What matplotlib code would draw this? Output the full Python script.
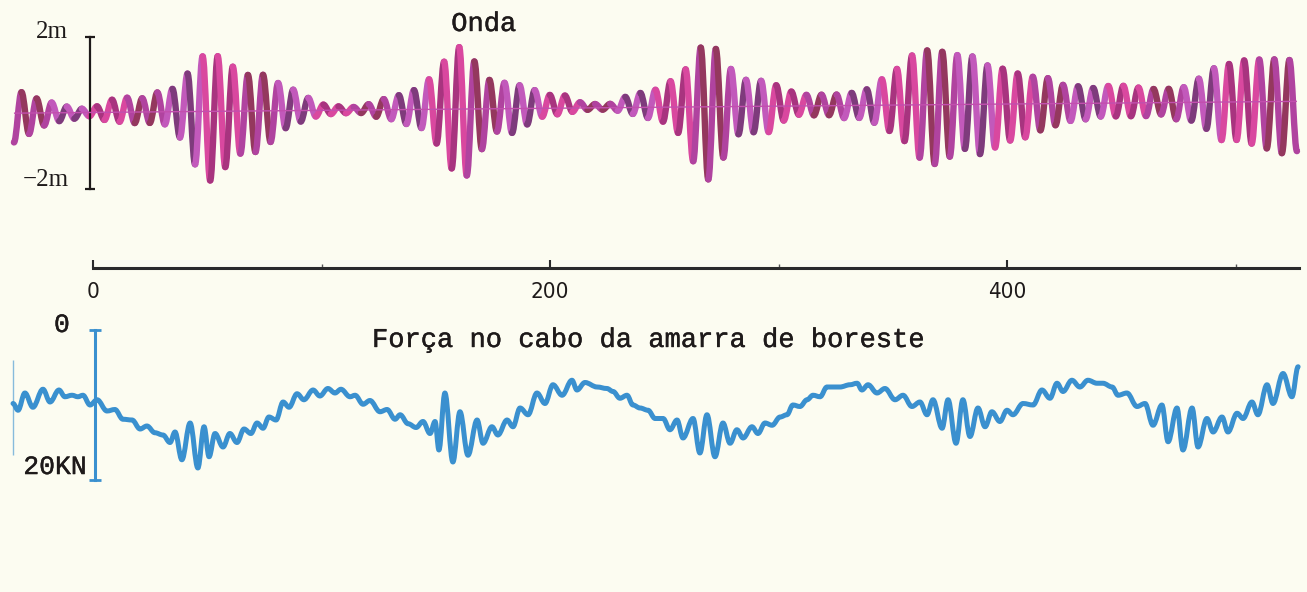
import numpy as np
import matplotlib.pyplot as plt
import matplotlib.patheffects as pe
from matplotlib.path import Path
from matplotlib.patches import PathPatch
from matplotlib.collections import PatchCollection
from matplotlib.transforms import Affine2D

# wave elevation, read cycle by cycle: crest height and trough depth (m)
wave_crests = [0.55, 0.38, 0.27, 0.16, 0.10, 0.16, 0.33, 0.38, 0.36, 0.51, 0.60,
               1.00, 1.45, 1.45, 1.17, 0.95, 0.95, 0.73, 0.55, 0.33, 0.15,
               0.10, 0.08, 0.15, 0.28, 0.38, 0.51, 0.79, 1.25, 1.63, 1.25, 0.76,
               0.68, 0.61, 0.48, 0.35, 0.33, 0.15, 0.10, 0.10, 0.28, 0.38,
               0.46, 0.68, 0.99, 1.56, 1.52, 0.99, 0.70, 0.67, 0.55, 0.38, 0.29,
               0.29, 0.29, 0.33, 0.42, 0.68, 0.95, 1.30, 1.43, 1.39, 1.30, 1.26,
               1.02, 0.93, 0.80, 0.71, 0.67, 0.49, 0.45, 0.40, 0.45, 0.45, 0.40,
               0.36, 0.36, 0.40, 0.62, 0.89, 1.00, 1.09, 1.11, 1.11, 1.09]
wave_troughs = [0.77,
                0.55, 0.33, 0.22, 0.16, 0.10, 0.20, 0.25, 0.29, 0.29, 0.33, 0.68,
                1.39, 1.82, 1.47, 1.12, 1.08, 0.82, 0.46, 0.29, 0.16, 0.10,
                0.08, 0.08, 0.18, 0.25, 0.38, 0.49, 0.90, 1.56, 1.75, 1.06, 0.60,
                0.64, 0.42, 0.22, 0.16, 0.10, 0.05, 0.05, 0.08, 0.17, 0.28,
                0.38, 0.68, 1.43, 1.91, 1.34, 0.73, 0.68, 0.68, 0.38, 0.23, 0.25,
                0.25, 0.33, 0.33, 0.46, 0.68, 0.95, 1.39, 1.56, 1.37, 1.17, 1.31,
                1.14, 0.96, 0.88, 0.70, 0.57, 0.46, 0.42, 0.35, 0.35, 0.35, 0.35,
                0.31, 0.44, 0.48, 0.70, 1.00, 1.00, 1.10, 1.23, 1.36, 1.31]
wave_start, wave_end = -34.6, 526.9  # first and last trough (s)

# starboard mooring line force: times (s) of its peaks/dips and values (kN)
force_t = [-35.0, -32.8, -29.8, -26.3, -21.9, -18.8, -14.9, -12.3, -9.2, -6.6,
           -4.4, -1.3, 1.8, 6.1, 9.6, 13.1, 17.1, 20.6, 23.6, 27.1,
           30.6, 33.7, 35.9, 38.9, 42.5, 45.9, 48.6, 50.8, 53.4, 56.9,
           59.9, 63.0, 66.1, 69.1, 71.8, 74.4, 77.0, 80.1, 83.2, 85.8,
           89.3, 92.3, 96.3, 99.3, 102.8, 105.9, 108.5, 112.5, 114.7, 118.2,
           121.2, 125.6, 128.7, 132.2, 134.4, 137.9, 141.4, 144.4, 147.5, 149.7,
           151.4, 154.0, 157.5, 160.6, 164.1, 168.1, 170.7, 174.6, 177.2, 181.2,
           183.8, 186.9, 190.4, 194.3, 197.8, 201.3, 205.3, 209.6, 211.8, 215.3,
           220.6, 224.9, 227.6, 230.6, 233.7, 236.3, 239.4, 242.9, 246.0, 249.5,
           252.5, 255.6, 258.2, 262.6, 265.6, 268.7, 272.2, 275.7, 278.8, 281.8,
           284.5, 288.4, 291.0, 294.1, 297.2, 300.7, 303.7, 306.3, 309.4, 312.5,
           315.1, 318.2, 321.2, 323.9, 326.9, 331.3, 334.4, 336.5, 339.2,
           343.1, 346.6, 351.0, 354.5, 358.4, 361.9, 365.0, 367.6, 371.6, 374.2,
           377.7, 380.7, 383.8, 387.3, 390.4, 393.4, 396.9, 400.0, 402.6, 407.0,
           411.4, 415.3, 418.8, 421.9, 424.5, 428.4, 431.9, 435.4, 439.4, 442.0,
           446.0, 448.6, 452.5, 456.9, 460.4, 463.9, 467.8, 470.5, 474.4, 477.0,
           481.0, 483.6, 487.5, 490.2, 494.1, 496.7, 500.7, 503.3, 507.2, 509.8,
           513.8, 516.4, 520.8, 524.7, 527.4]
force_kn = [9.8, 10.7, 8.4, 10.3, 7.9, 9.6, 8.0, 8.9, 8.7, 8.9,
            8.7, 10.0, 9.3, 10.8, 10.6, 11.9, 12.0, 13.2, 12.8, 13.7,
            14.0, 15.0, 13.6, 17.3, 12.4, 18.4, 12.9, 16.9, 13.8, 15.6,
            13.8, 15.0, 13.2, 13.8, 12.4, 13.1, 11.6, 12.0, 9.6, 10.3,
            8.5, 9.3, 8.0, 8.8, 7.8, 8.4, 7.9, 8.9, 8.7, 9.9,
            9.4, 10.9, 10.6, 11.9, 11.3, 12.5, 13.0, 12.2, 13.8, 12.2,
            16.0, 8.4, 17.6, 10.9, 16.7, 12.0, 15.1, 12.9, 14.0, 12.0,
            12.9, 10.4, 11.3, 8.4, 9.8, 7.3, 8.7, 6.7, 8.0, 7.0,
            7.6, 7.8, 8.2, 9.1, 8.7, 10.0, 10.4, 10.7, 11.8, 11.8,
            13.3, 12.0, 14.4, 11.8, 16.4, 11.3, 16.9, 12.4, 15.1, 13.3,
            14.4, 12.9, 13.8, 12.4, 12.7, 11.6, 11.3, 10.0, 10.2, 9.3,
            8.7, 8.9, 7.6, 7.6, 7.6, 7.3, 7.1, 8.0, 7.3,
            8.4, 7.8, 9.3, 8.7, 10.2, 9.6, 11.3, 9.3, 13.1, 9.3,
            15.1, 9.3, 14.2, 10.4, 12.9, 10.9, 12.2, 10.7, 11.3, 9.8,
            10.0, 8.0, 9.1, 7.1, 8.2, 6.7, 7.6, 6.7, 7.1, 7.1,
            7.6, 8.7, 8.4, 10.2, 9.8, 12.7, 10.0, 14.9, 10.4, 16.0,
            10.4, 15.6, 11.8, 13.6, 11.6, 13.6, 11.1, 11.8, 9.6, 11.3,
            7.3, 9.8, 5.8, 8.9, 4.9]

time_major = [0, 200, 400]
time_minor = [100, 300, 500]

PAPER = '#fcfcf1'
INK = '#1e1a1a'
BLUE = '#3a90cf'
TYPE = 'Liberation Mono'
inked = [pe.withStroke(linewidth=0.3, foreground=INK)]

W, H = 1307, 592
fig = plt.figure(figsize=(W / 100, H / 100), dpi=100, facecolor=PAPER)


def swing(t0, y0, t1, y1, k=0.364):
    """Smooth half-swing between two turning points (horizontal tangents)."""
    dt = t1 - t0
    return [(t0 + k * dt, y0), (t1 - k * dt, y1), (t1, y1)]


def turning_path(t, y):
    verts, codes = [(t[0], y[0])], [Path.MOVETO]
    for i in range(len(t) - 1):
        verts += swing(t[i], y[i], t[i + 1], y[i + 1])
        codes += [Path.CURVE4] * 3
    return Path(verts, codes)


# common time scale: 2.285 px per second, t = 0 at 93 px
xlim = (-93 / 2.285, (W - 93) / 2.285)
ZERO = 113.3        # wave zero line, px from top of the sheet
MPX = 38.0          # px per metre

ax_w = fig.add_axes([0, 1 - 300 / H, 1, 300 / H])
ax_f = fig.add_axes([0, 0, 1, 1 - 300 / H])
for ax in (ax_w, ax_f):
    ax.set_facecolor('none')
    ax.set_xlim(*xlim)
    for s in ax.spines.values():
        s.set_visible(False)
    ax.set_xticks([])
    ax.set_yticks([])
ax_w.set_ylim(-(300 - ZERO) / MPX, ZERO / MPX)
ax_f.set_ylim(262 / 7.5, -30 / 7.5)

# the chart paper sat slightly rotated under the pen
tilt = ax_w.transData + Affine2D().skew(0, np.arctan(0.0092))

# --- wave record ---
elev = np.empty(2 * len(wave_crests) + 1)
elev[0::2] = -np.asarray(wave_troughs)
elev[1::2] = wave_crests
t_w = np.linspace(wave_start, wave_end, elev.size)
palette = ['#b0439f', '#7e3b7c', '#d9489f', '#94385e', '#c259bb', '#a8347f']
halves = [PathPatch(turning_path(t_w[i:i + 2], elev[i:i + 2]))
          for i in range(elev.size - 1)]
cols = [palette[(3 * i + i // 5) % len(palette)] for i in range(len(halves))]
pc = PatchCollection(halves, facecolors='none', edgecolors=cols,
                     linewidths=4.6, capstyle='round', joinstyle='round',
                     transform=tilt)
ax_w.add_collection(pc)
ax_w.hlines(0, t_w[0], t_w[-1], color='#c24fae', lw=1.0, zorder=3,
            transform=tilt)

# wave height scale bar
sl = ax_w.spines['left']
sl.set_visible(True)
sl.set_position(('data', -1.3))
sl.set_bounds(-2, 2)
sl.set_linewidth(1.6)
sl.set_color(INK)
ax_w.set_yticks([-2, 2])
ax_w.tick_params(axis='y', direction='inout', length=7, width=1.6,
                 color=INK, labelleft=False)
ax_w.text(-17.9, (ZERO - 32) / MPX, '2m', ha='center', va='center',
          family='Liberation Serif', size=18, color=INK)
ax_w.text(-20.6, -(180 - ZERO) / MPX, '\u22122m', ha='center', va='center',
          family='Liberation Serif', size=18, color=INK)
ax_w.text(171, (ZERO - 24) / MPX, 'Onda', ha='center', va='center',
          family=TYPE, size=19.5, color=INK, path_effects=inked)

# time axis
sb = ax_w.spines['bottom']
sb.set_visible(True)
sb.set_position(('data', -(268 - ZERO) / MPX))
sb.set_bounds(0, 528)
sb.set_linewidth(2.2)
sb.set_color('#2a2a2a')
ax_w.set_xticks(time_major)
ax_w.set_xticks(time_minor, minor=True)
ax_w.tick_params(axis='x', which='major', direction='in', length=6, width=1.5,
                 color='#2a2a2a', pad=10, labelsize=16, labelcolor=INK)
ax_w.tick_params(axis='x', which='minor', direction='in', length=3, width=1,
                 color='#555555')
for lbl in ax_w.get_xticklabels():
    lbl.set_family('DejaVu Sans')
    lbl.set_stretch('condensed')

# --- mooring line force ---
ax_f.add_patch(PathPatch(turning_path(force_t, force_kn), facecolor='none',
                         edgecolor=BLUE, lw=3.6, capstyle='round',
                         joinstyle='round'))
ax_f.vlines(force_t[0], 4.0, 16.7, color=BLUE, lw=1.0, alpha=0.6)

fl = ax_f.spines['left']
fl.set_visible(True)
fl.set_position(('data', 0.9))
fl.set_bounds(0, 20)
fl.set_linewidth(2.2)
fl.set_color(BLUE)
ax_f.set_yticks([0, 20])
ax_f.tick_params(axis='y', direction='inout', length=8, width=2.0,
                 color=BLUE, labelleft=False)
ax_f.text(-13.6, -0.67, '0', ha='center', va='center',
          family=TYPE, size=19, color=INK, path_effects=inked)
ax_f.text(-16.6, 18.27, '20KN', ha='center', va='center',
          family=TYPE, size=19, color=INK, path_effects=inked)
ax_f.text(243, 1.33, 'Força no cabo da amarra de boreste', ha='center',
          va='center', family=TYPE, size=19.5, color=INK, path_effects=inked)

fig.savefig('out.png', dpi=100, facecolor=PAPER)
